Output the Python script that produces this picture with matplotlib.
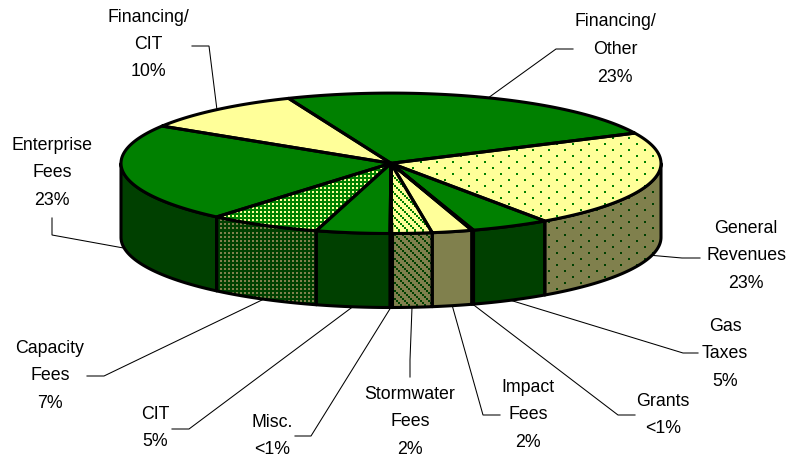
#!/usr/bin/env python3
"""3D style funding sources pie, drawn as projected ellipse slices in pixel coords."""
import numpy as np
import matplotlib
matplotlib.use("Agg")
import matplotlib.pyplot as plt
from matplotlib.patches import Polygon

plt.rcParams["font.family"] = ["Liberation Sans", "DejaVu Sans"]

# data, clockwise from the top left of the Financing/Other slice
names = ["Financing/\nOther", "General\nRevenues", "Gas\nTaxes", "Grants", "Impact\nFees", "Stormwater\nFees",
         "Misc.", "CIT", "Capacity\nFees", "Enterprise\nFees", "Financing/\nCIT"]
shown = ["23%", "23%", "5%", "<1%", "2%", "2%", "<1%", "5%", "7%", "23%", "10%"]
values = [24.1, 22.4, 4.7, 0.1, 2.4, 2.4, 0.1, 4.4, 6.7, 22.7, 9.9]

# look of each slice
tops = ["g", "y", "g", "g", "y", "y", "g", "g", "g", "g", "y"]
patterns = [None, "sparse", None, None, None, "hatch", None, None, "dense", None, None]

# label centre and the leader elbow (text end, bend)
label_xy = [(615, 22), (746, 228), (725, 326), (663, 401), (528, 387), (410, 394),
            (272, 422), (155, 414), (50, 348), (52, 145), (148, 17)]
elbows = [[(573, 49), (556, 49)], [(700, 258), (682, 258)], [(698, 353), (683, 353)], [(635, 415), (618, 415)],
          [(500, 415), (483, 415)], [(410, 377), (410, 360)], [(295, 436), (311, 436)], [(172, 429), (189, 429)],
          [(87, 376), (104, 376)], [(52, 218), (52, 235)], [(192, 46), (209, 46)]]

CX, CY, RX, RY, DEPTH = 391, 163.3, 270, 70.2, 74
START = 112.3
W, H = 790, 461
GREEN, YELLOW, DGREEN, OLIVE = "#008000", "#FFFF99", "#004000", "#80804D"
LINE = 2.2


def rim(t, drop=0):
    t = np.radians(t)
    return np.column_stack([CX + RX * np.cos(t), CY - RY * np.sin(t) + drop])


def texture(kind, color):
    yy, xx = np.mgrid[0:H, 0:W]
    if kind == "sparse":
        mask = (((xx - 4) % 16 < 2) & ((yy - 6) % 12 < 2)) | (((xx - 12) % 16 < 2) & (yy % 12 < 2))
    elif kind == "dense":
        mask = (xx % 4 < 2) & (yy % 4 < 2)
    else:
        mask = (xx // 2 - yy // 2) % 4 == 0
    img = np.zeros((H, W, 4))
    img[..., :3] = matplotlib.colors.to_rgb(color)
    img[..., 3] = mask
    return img


def fill(ax, pts, base, kind=None, mark=None, z=2):
    p = Polygon(pts, closed=True, fc=base, ec="none", zorder=z)
    ax.add_patch(p)
    if kind:
        im = ax.imshow(texture(kind, mark), extent=(0, W, H, 0), interpolation="nearest", aspect="auto", zorder=z + 0.1)
        im.set_clip_path(p)
    ax.add_patch(Polygon(pts, closed=True, fc="none", ec="k", lw=LINE, joinstyle="round", zorder=z + 0.2))


fig = plt.figure(figsize=(W / 100, H / 100), dpi=100)
ax = fig.add_axes([0, 0, 1, 1])

frac = np.array(values) / sum(values) * 360
ends = START - np.cumsum(frac)
starts = ends + frac
mids = (starts + ends) / 2

# front wall
for a, b, top, kind in zip(starts, ends, tops, patterns):
    # wall is only seen between -180 and 0
    for off in (0, 360):
        lo, hi = max(b + off, -180), min(a + off, 0)
        if hi <= lo:
            continue
        ts = np.linspace(hi, lo, 60)
        pts = np.vstack([rim(ts), rim(ts[::-1], DEPTH)])
        if top == "y":
            fill(ax, pts, OLIVE, kind, DGREEN, z=2)
        elif kind == "dense":
            fill(ax, pts, DGREEN, kind, OLIVE, z=2)
        else:
            fill(ax, pts, DGREEN, z=2)

# top face
for a, b, top, kind in zip(starts, ends, tops, patterns):
    pts = np.vstack([[(CX, CY)], rim(np.linspace(a, b, 120))])
    if top == "y":
        fill(ax, pts, YELLOW, kind, GREEN, z=3)
    else:
        fill(ax, pts, GREEN, kind, YELLOW, z=3)

# labels and leaders
for name, pct, (tx, ty), el, m in zip(names, shown, label_xy, elbows, mids):
    lines = name.split("\n") + [pct]
    for i, s in enumerate(lines):
        ax.text(tx, ty + i * 27.5, s, ha="center", va="center", fontsize=12.8, color="#000000", zorder=5)
    drop = DEPTH if np.sin(np.radians(m)) < 0 else 0
    path = np.vstack([el, rim(np.array([m]), drop)])
    ax.plot(path[:, 0], path[:, 1], color="k", lw=0.75, zorder=1, solid_joinstyle="miter")

ax.set_xlim(0, W)
ax.set_ylim(H, 0)
ax.axis("off")
fig.savefig("out.png", dpi=100, facecolor="white")
